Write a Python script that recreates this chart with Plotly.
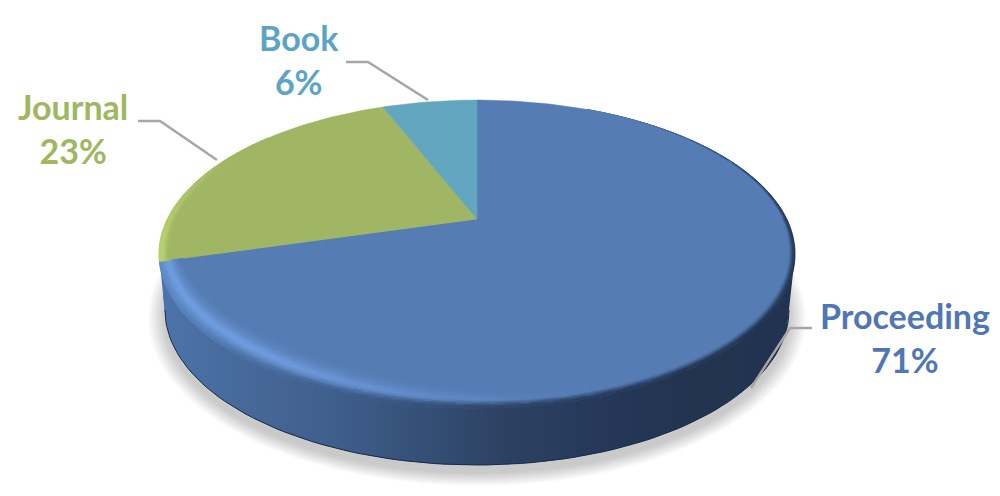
import math
from collections import defaultdict
import plotly.graph_objects as go

# ---- data ----
categories = ["Proceeding", "Journal", "Book"]
values = [70.6, 23.4, 6.0]
base_colors = ["#567cb4", "#a1b665", "#62a6c0"]
bright_colors = ["#6f9ee0", "#b9d470", "#72bcd8"]
label_colors = ["#4f76b6", "#a0b75f", "#5aa5c6"]
label_centers = [(905, 337), (73, 128), (299, 59)]
leaders = [
    ([812, 790, 751], [328, 328, 388]),
    ([138, 160, 217], [121, 121, 160]),
    ([346, 368, 428], [62, 62, 100]),
]

# ---- projected-disc geometry (paper pixels) ----
AX, AY = 477, 219   # apex
B, A, K = 309.7, 146.0, 0.2273
BOT_CX, BOT_CY, BOT_RX, BOT_RY = 477, 310, 312, 155
TOP_CX, TOP_CY, TOP_RX, TOP_RY = 477, 254, 318, 154


def proj(theta_deg, r=1.0):
    t = math.radians(theta_deg)
    u, v = r * math.sin(t), r * math.cos(t)
    d = 1 + K * v
    return AX + B * u / d, AY - A * v / d


def h2r(h):
    return tuple(int(h[i:i + 2], 16) for i in (1, 3, 5))


def mix(a, b, t):
    t = max(0.0, min(1.0, t))
    return tuple(a[i] + (b[i] - a[i]) * t for i in range(3))


def quant(c, step=2):
    return "#%02x%02x%02x" % tuple(min(255, int(round(x / step) * step)) for x in c)


def smooth(a, b, x):
    t = max(0.0, min(1.0, (x - a) / (b - a)))
    return t * t * (3 - 2 * t)


WALL_STOPS = [(160, "#4c74aa"), (240, "#47699b"), (330, "#3f5f8c"), (430, "#344e75"),
              (500, "#2d4263"), (600, "#25385a"), (680, "#223450"), (800, "#213350")]


def wall_color(x):
    if x <= WALL_STOPS[0][0]:
        return h2r(WALL_STOPS[0][1])
    for (x0, c0), (x1, c1) in zip(WALL_STOPS, WALL_STOPS[1:]):
        if x <= x1:
            return mix(h2r(c0), h2r(c1), (x - x0) / (x1 - x0))
    return h2r(WALL_STOPS[-1][1])


fig = go.Figure()


def add_group(groups, lw=0.7):
    for col, polys in groups.items():
        xs, ys = [], []
        for p in polys:
            xs += [q[0] for q in p] + [p[0][0], None]
            ys += [q[1] for q in p] + [p[0][1], None]
        fig.add_trace(go.Scatter(x=xs, y=ys, mode="lines", fill="toself", fillcolor=col,
                                 line=dict(color=col, width=lw), hoverinfo="skip",
                                 showlegend=False))


# shadow
for i in range(14):
    f = 1 - i / 13
    pts = []
    for a in range(0, 361, 3):
        t = math.radians(a)
        pts.append((BOT_CX + (BOT_RX + 17 * f) * math.cos(t),
                    BOT_CY + 8 + (BOT_RY + 13 * f) * math.sin(t)))
    fig.add_trace(go.Scatter(x=[p[0] for p in pts], y=[p[1] for p in pts], mode="lines",
                             fill="toself", fillcolor="rgba(90,90,90,0.022)",
                             line=dict(width=0), hoverinfo="skip", showlegend=False))


# side wall
def bot_y(x):
    dx = abs(x - BOT_CX)
    if dx >= BOT_RX - 0.5:
        yj = BOT_CY + BOT_RY * math.sqrt(1 - ((BOT_RX - 0.5) / BOT_RX) ** 2)
        return yj + (min(dx, TOP_RX) - BOT_RX + 0.5) / (TOP_RX - BOT_RX + 0.5) * (TOP_CY - yj)
    return BOT_CY + BOT_RY * math.sqrt(1 - (dx / BOT_RX) ** 2)


# one contiguous band per colour, drawn left to right, each overlapped by the next
bands = []
x = TOP_CX - TOP_RX
while x < TOP_CX + TOP_RX:
    col = quant(wall_color(x), 1)
    if bands and bands[-1][0] == col:
        bands[-1][2] = x + 1
    else:
        bands.append([col, x, x + 1])
    x += 1
for col, x0, x1 in bands:
    x1 = min(x1 + 1, TOP_CX + TOP_RX)
    n = max(1, int(x1 - x0))
    low = [(x0 + (x1 - x0) * i / n, bot_y(x0 + (x1 - x0) * i / n)) for i in range(n + 1)]
    poly = [(x0, TOP_CY), (x1, TOP_CY)] + low[::-1]
    fig.add_trace(go.Scatter(x=[p[0] for p in poly] + [x0], y=[p[1] for p in poly] + [TOP_CY],
                             mode="lines", fill="toself", fillcolor=col, line=dict(width=0),
                             hoverinfo="skip", showlegend=False))

# bottom edge line
bx = [BOT_CX + BOT_RX * math.cos(math.radians(a)) for a in range(0, 181, 2)]
by = [BOT_CY + BOT_RY * math.sin(math.radians(a)) for a in range(0, 181, 2)]
fig.add_trace(go.Scatter(x=bx, y=by, mode="lines", line=dict(color="#1b2b48", width=1),
                         hoverinfo="skip", showlegend=False))

# top faces
total = sum(values)
spans = []
start = 0.0
for v in values:
    end = start + v / total * 360
    spans.append((start, end))
    start = end

for (s, e), col in zip(spans, base_colors):
    n = max(4, int((e - s) / 1.0))
    pts = [(AX, AY)] + [proj(s + (e - s) * i / n) for i in range(n + 1)]
    fig.add_trace(go.Scatter(x=[p[0] for p in pts] + [AX], y=[p[1] for p in pts] + [AY],
                             mode="lines", fill="toself", fillcolor=col,
                             line=dict(color=col, width=0.5), hoverinfo="skip", showlegend=False))


# rounded bevel along the rim
def highlight(idx, th):
    if idx == 0:
        return smooth(155, 225, th)
    if idx == 1:
        return 0.9 * (1 - smooth(spans[1][0] + 3, spans[1][0] + 50, th))
    return 0.0


def bevel_width(idx, th):
    if idx == 1:
        return 0.035
    front = max(0.0, -math.cos(math.radians(th)))
    return 0.008 + 0.032 * smooth(30, 100, th) + 0.11 * front * (0.25 + 0.75 * highlight(0, th))


def darkness(idx, th):
    if idx != 0:
        return 0.0
    return smooth(25, 90, th) * (1 - 0.5 * smooth(200, 254, th))


groups = defaultdict(list)
RINGS = 14
STEP = 1.2
PEAK = 0.42
for idx, (s, e) in enumerate(spans):
    base = h2r(base_colors[idx])
    bright = h2r(bright_colors[idx])
    n = max(1, int((e - s) / STEP))
    for i in range(n):
        a0 = s + (e - s) * i / n
        a1 = s + (e - s) * (i + 1) / n
        am = (a0 + a1) / 2
        if idx == 0 and am < 25:
            continue
        if idx == 2 or (idx == 1 and am > spans[1][0] + 55):
            continue
        w = bevel_width(idx, am)
        hi = mix(base, bright, highlight(idx, am))
        px = proj(am)[0]
        edge = mix(hi, wall_color(px), darkness(idx, am))
        for j in range(RINGS):
            t0 = j / RINGS
            t1 = (j + 1) / RINGS
            tm = (t0 + t1) / 2
            if tm < PEAK:
                c = mix(edge, hi, smooth(0, PEAK, tm))
            else:
                q = (tm - PEAK) / (1 - PEAK)
                c = mix(hi, base, 1 - (1 - q) ** 2.2)
            r0, r1 = 1 - w * t0, 1 - w * t1
            groups[quant(c)].append([proj(a0, r0), proj(a1, r0), proj(a1, r1), proj(a0, r1)])
add_group(groups)

# leader lines
for lx, ly in leaders:
    fig.add_trace(go.Scatter(x=lx, y=ly, mode="lines", line=dict(color="#a6a6a6", width=2.5),
                             hoverinfo="skip", showlegend=False))

# labels
for name, v, col, (cx, cy) in zip(categories, values, label_colors, label_centers):
    pct = round(v / total * 100)
    fig.add_annotation(x=cx, y=cy, xref="x", yref="y", showarrow=False, align="center",
                       text=f"<b>{name}<br>{pct}%</b>",
                       font=dict(family="Lato", size=34, color=col))

fig.update_layout(
    width=1000, height=496, margin=dict(l=0, r=0, t=0, b=0),
    paper_bgcolor="white", plot_bgcolor="white", showlegend=False,
    xaxis=dict(range=[0, 1000], visible=False, fixedrange=True),
    yaxis=dict(range=[496, 0], visible=False, fixedrange=True),
)
fig.write_html("out.html", config={"displayModeBar": False},
               post_script="document.body.style.margin='0';document.body.style.overflow='hidden';")
